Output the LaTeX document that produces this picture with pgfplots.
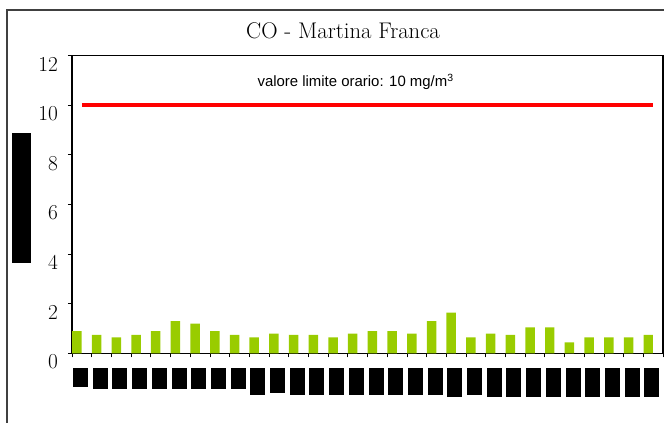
\documentclass[border=0pt]{standalone}
\usepackage{fontspec}
\usepackage{pgfplots}
\pgfplotsset{compat=1.18}
\newfontfamily\arial{Liberation Sans}
\definecolor{bargreen}{RGB}{153,204,0}
\definecolor{framegray}{RGB}{64,64,64}
\newcommand{\lb}[1]{\rule{11.25pt}{#1pt}}
\begin{document}
\begin{tikzpicture}
\path[use as bounding box] (-54pt,-52.1pt) rectangle (444pt,265.1pt);
\clip (-54pt,-52.1pt) rectangle (444pt,265.1pt);
\draw[framegray, line width=1.3pt] (-48.75pt,-80pt) -- (-48.75pt,257.6pt) -- (470pt,257.6pt);
\begin{axis}[
  scale only axis,
  width=443.25pt, height=223.4pt,
  xmin=0, xmax=30, ymin=0, ymax=12,
  ytick={0,2,...,12},
  xtick={0.5,1.5,...,29.5},
  minor xtick={0,1,...,30},
  major x tick style={draw=none},
  xtick pos=bottom, ytick pos=left,
  tick align=outside,
  major tick length=3pt, minor tick length=3pt,
  tick style={black, line width=0.6pt},
  axis line style={black, line width=0.8pt},
  /pgf/number format/assume math mode=true,
  yticklabel style={font=\fontsize{16}{18}\selectfont, xshift=-4pt, yshift=-6.3pt},
  xticklabels={\lb{14.25},\lb{15.5},\lb{15.5},\lb{15.5},\lb{15.5},\lb{15.5},\lb{15.5},\lb{15.5},\lb{15.5},\lb{20},
               \lb{18.5},\lb{20},\lb{20},\lb{20},\lb{20},\lb{20},\lb{20},\lb{20},\lb{20},\lb{21.5},
               \lb{20},\lb{21.5},\lb{21.5},\lb{21.5},\lb{21.5},\lb{21.5},\lb{21.5},\lb{21.5},\lb{21.5},\lb{21.5}},
  xticklabel style={anchor=north, inner sep=0pt, yshift=-8pt, xshift=-1pt},
  ylabel={\rule{97.5pt}{14.25pt}},
  ylabel style={inner sep=0pt, at={(axis description cs:-0.0855,0.522)}, anchor=center},
  title={CO - Martina Franca},
  every axis title shift=0pt,
  title style={font=\fontsize{17}{20}\selectfont, at={(axis description cs:0.4586,1.084)}, anchor=center},
  clip=false,
]
\addplot[ybar, bar width=0.48, bar shift=0pt, fill=bargreen, draw=none] coordinates {
(0.25,0.9) (1.25,0.75) (2.25,0.65) (3.25,0.75) (4.25,0.9) (5.25,1.3) (6.25,1.2) (7.25,0.9) (8.25,0.75) (9.25,0.65)
(10.25,0.8) (11.25,0.75) (12.25,0.75) (13.25,0.65) (14.25,0.8) (15.25,0.9) (16.25,0.9) (17.25,0.8) (18.25,1.3) (19.25,1.65)
(20.25,0.65) (21.25,0.8) (22.25,0.75) (23.25,1.05) (24.25,1.05) (25.25,0.45) (26.25,0.65) (27.25,0.65) (28.25,0.65) (29.25,0.75)
};
\addplot[red, line width=3pt, mark=none] coordinates {(0.5,10) (29.5,10)};
\node[font=\arial\fontsize{11.2}{13}\selectfont] at (axis cs:14.4,10.95) {valore limite orario: 10 mg/m\textsuperscript{3}};
\end{axis}
\end{tikzpicture}
\end{document}
